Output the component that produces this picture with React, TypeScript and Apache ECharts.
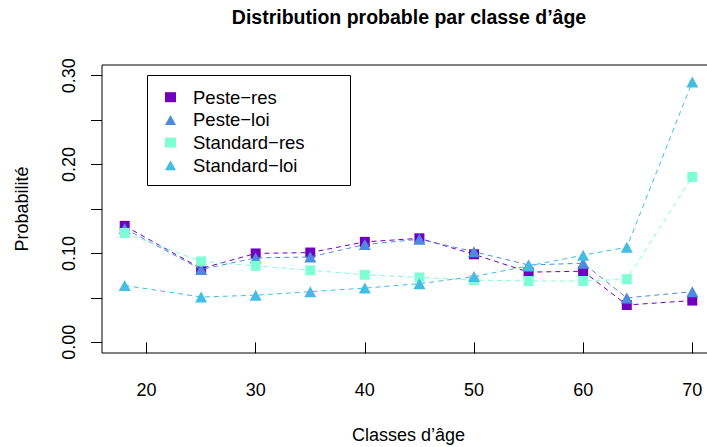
import React, { useEffect, useRef } from "react";
import * as echarts from "echarts";

const ages = [18, 25, 30, 35, 40, 45, 50, 55, 60, 64, 70];
const pesteRes = [0.131, 0.083, 0.1, 0.101, 0.113, 0.117, 0.099, 0.079, 0.08, 0.042, 0.047];
const pesteLoi = [0.128, 0.082, 0.095, 0.096, 0.11, 0.116, 0.102, 0.087, 0.089, 0.05, 0.057];
const standardRes = [0.123, 0.091, 0.086, 0.081, 0.076, 0.073, 0.07, 0.069, 0.069, 0.071, 0.186];
const standardLoi = [0.064, 0.051, 0.053, 0.057, 0.061, 0.066, 0.074, 0.086, 0.098, 0.107, 0.293];

const seriesNames = ["Peste\u2212res", "Peste\u2212loi", "Standard\u2212res", "Standard\u2212loi"];
const seriesValues = [pesteRes, pesteLoi, standardRes, standardLoi];
const seriesColors = ["#7000BE", "#4D8CDC", "#7FFFD4", "#42BDE3"];
const seriesSymbols = ["rect", "triangle", "rect", "triangle"];

const xTicks = [20, 30, 40, 50, 60, 70];
const yTicks = [0, 0.05, 0.1, 0.15, 0.2, 0.25, 0.3];
const yLabels = [0, 0.1, 0.2, 0.3];

const FONT = "'Liberation Sans', Arial, Helvetica, sans-serif";

export default function App() {
  const ref = useRef<HTMLDivElement>(null);
  useEffect(() => {
    if (!ref.current) return;
    const chart = echarts.init(ref.current, undefined, { renderer: "svg" });
    const option: any = {
      animation: false,
      backgroundColor: "#ffffff",
      textStyle: { fontFamily: FONT },
      title: {
        text: "Distribution probable par classe d\u2019\u00e2ge",
        left: 409,
        top: 7,
        padding: 0,
        textAlign: "center",
        textStyle: { fontFamily: FONT, fontSize: 19.5, fontWeight: "bold", color: "#000" },
      },
      grid: {
        left: 102,
        top: 65,
        right: -8,
        bottom: 94,
        outerBoundsMode: "none",
        containLabel: false,
        show: true,
        borderColor: "#000",
        borderWidth: 1,
        backgroundColor: "transparent",
      },
      xAxis: {
        type: "value",
        min: 15.92,
        max: 72.08,
        name: "Classes d\u2019\u00e2ge",
        nameLocation: "middle",
        nameGap: 73,
        nameTextStyle: { fontFamily: FONT, fontSize: 18, color: "#000" },
        axisLine: { show: false },
        splitLine: { show: false },
        axisTick: {
          show: true,
          customValues: xTicks,
          length: 11,
          lineStyle: { color: "#000", width: 1 },
        },
        axisLabel: {
          customValues: xTicks,
          margin: 28,
          fontFamily: FONT,
          fontSize: 18,
          color: "#000",
        },
      },
      yAxis: {
        type: "value",
        min: -0.012,
        max: 0.312,
        name: "Probabilit\u00e9",
        nameLocation: "middle",
        nameRotate: 90,
        nameGap: 71,
        nameTextStyle: { fontFamily: FONT, fontSize: 18, color: "#000" },
        axisLine: { show: false },
        splitLine: { show: false },
        axisTick: {
          show: true,
          customValues: yTicks,
          length: 11,
          lineStyle: { color: "#000", width: 1 },
        },
        axisLabel: {
          customValues: yLabels,
          rotate: 90,
          margin: 24,
          fontFamily: FONT,
          fontSize: 18,
          color: "#000",
          formatter: (v: number) => v.toFixed(2),
        },
      },
      legend: {
        orient: "vertical",
        left: 165,
        top: 87.7,
        padding: 0,
        itemGap: 3.7,
        itemWidth: 11,
        itemHeight: 10,
        textStyle: {
          fontFamily: FONT,
          fontSize: 18.5,
          lineHeight: 18,
          color: "#000",
          padding: [0, 0, 0, 12],
        },
        data: seriesNames.map((n, i) => ({ name: n, icon: seriesSymbols[i] })),
      },
      graphic: [
        {
          type: "rect",
          shape: { x: 147.5, y: 75.5, width: 203, height: 110 },
          style: { fill: "none", stroke: "#000", lineWidth: 1 },
          z: 10,
        },
      ],
      series: seriesNames.map((n, i) => ({
        name: n,
        type: "line",
        data: ages.map((a, j) => [a, seriesValues[i][j]]),
        symbol: seriesSymbols[i],
        symbolSize: seriesSymbols[i] === "rect" ? [10, 10] : [12, 11],
        showAllSymbol: true,
        itemStyle: { color: seriesColors[i] },
        lineStyle: { color: seriesColors[i], width: 1, type: [5, 4] },
        emphasis: { disabled: true },
        z: 2 + i,
      })),
    };
    chart.setOption(option);
    return () => chart.dispose();
  }, []);
  return (
    <div
      ref={ref}
      style={{ position: "fixed", left: 0, top: 0, width: 707, height: 447 }}
    />
  );
}
